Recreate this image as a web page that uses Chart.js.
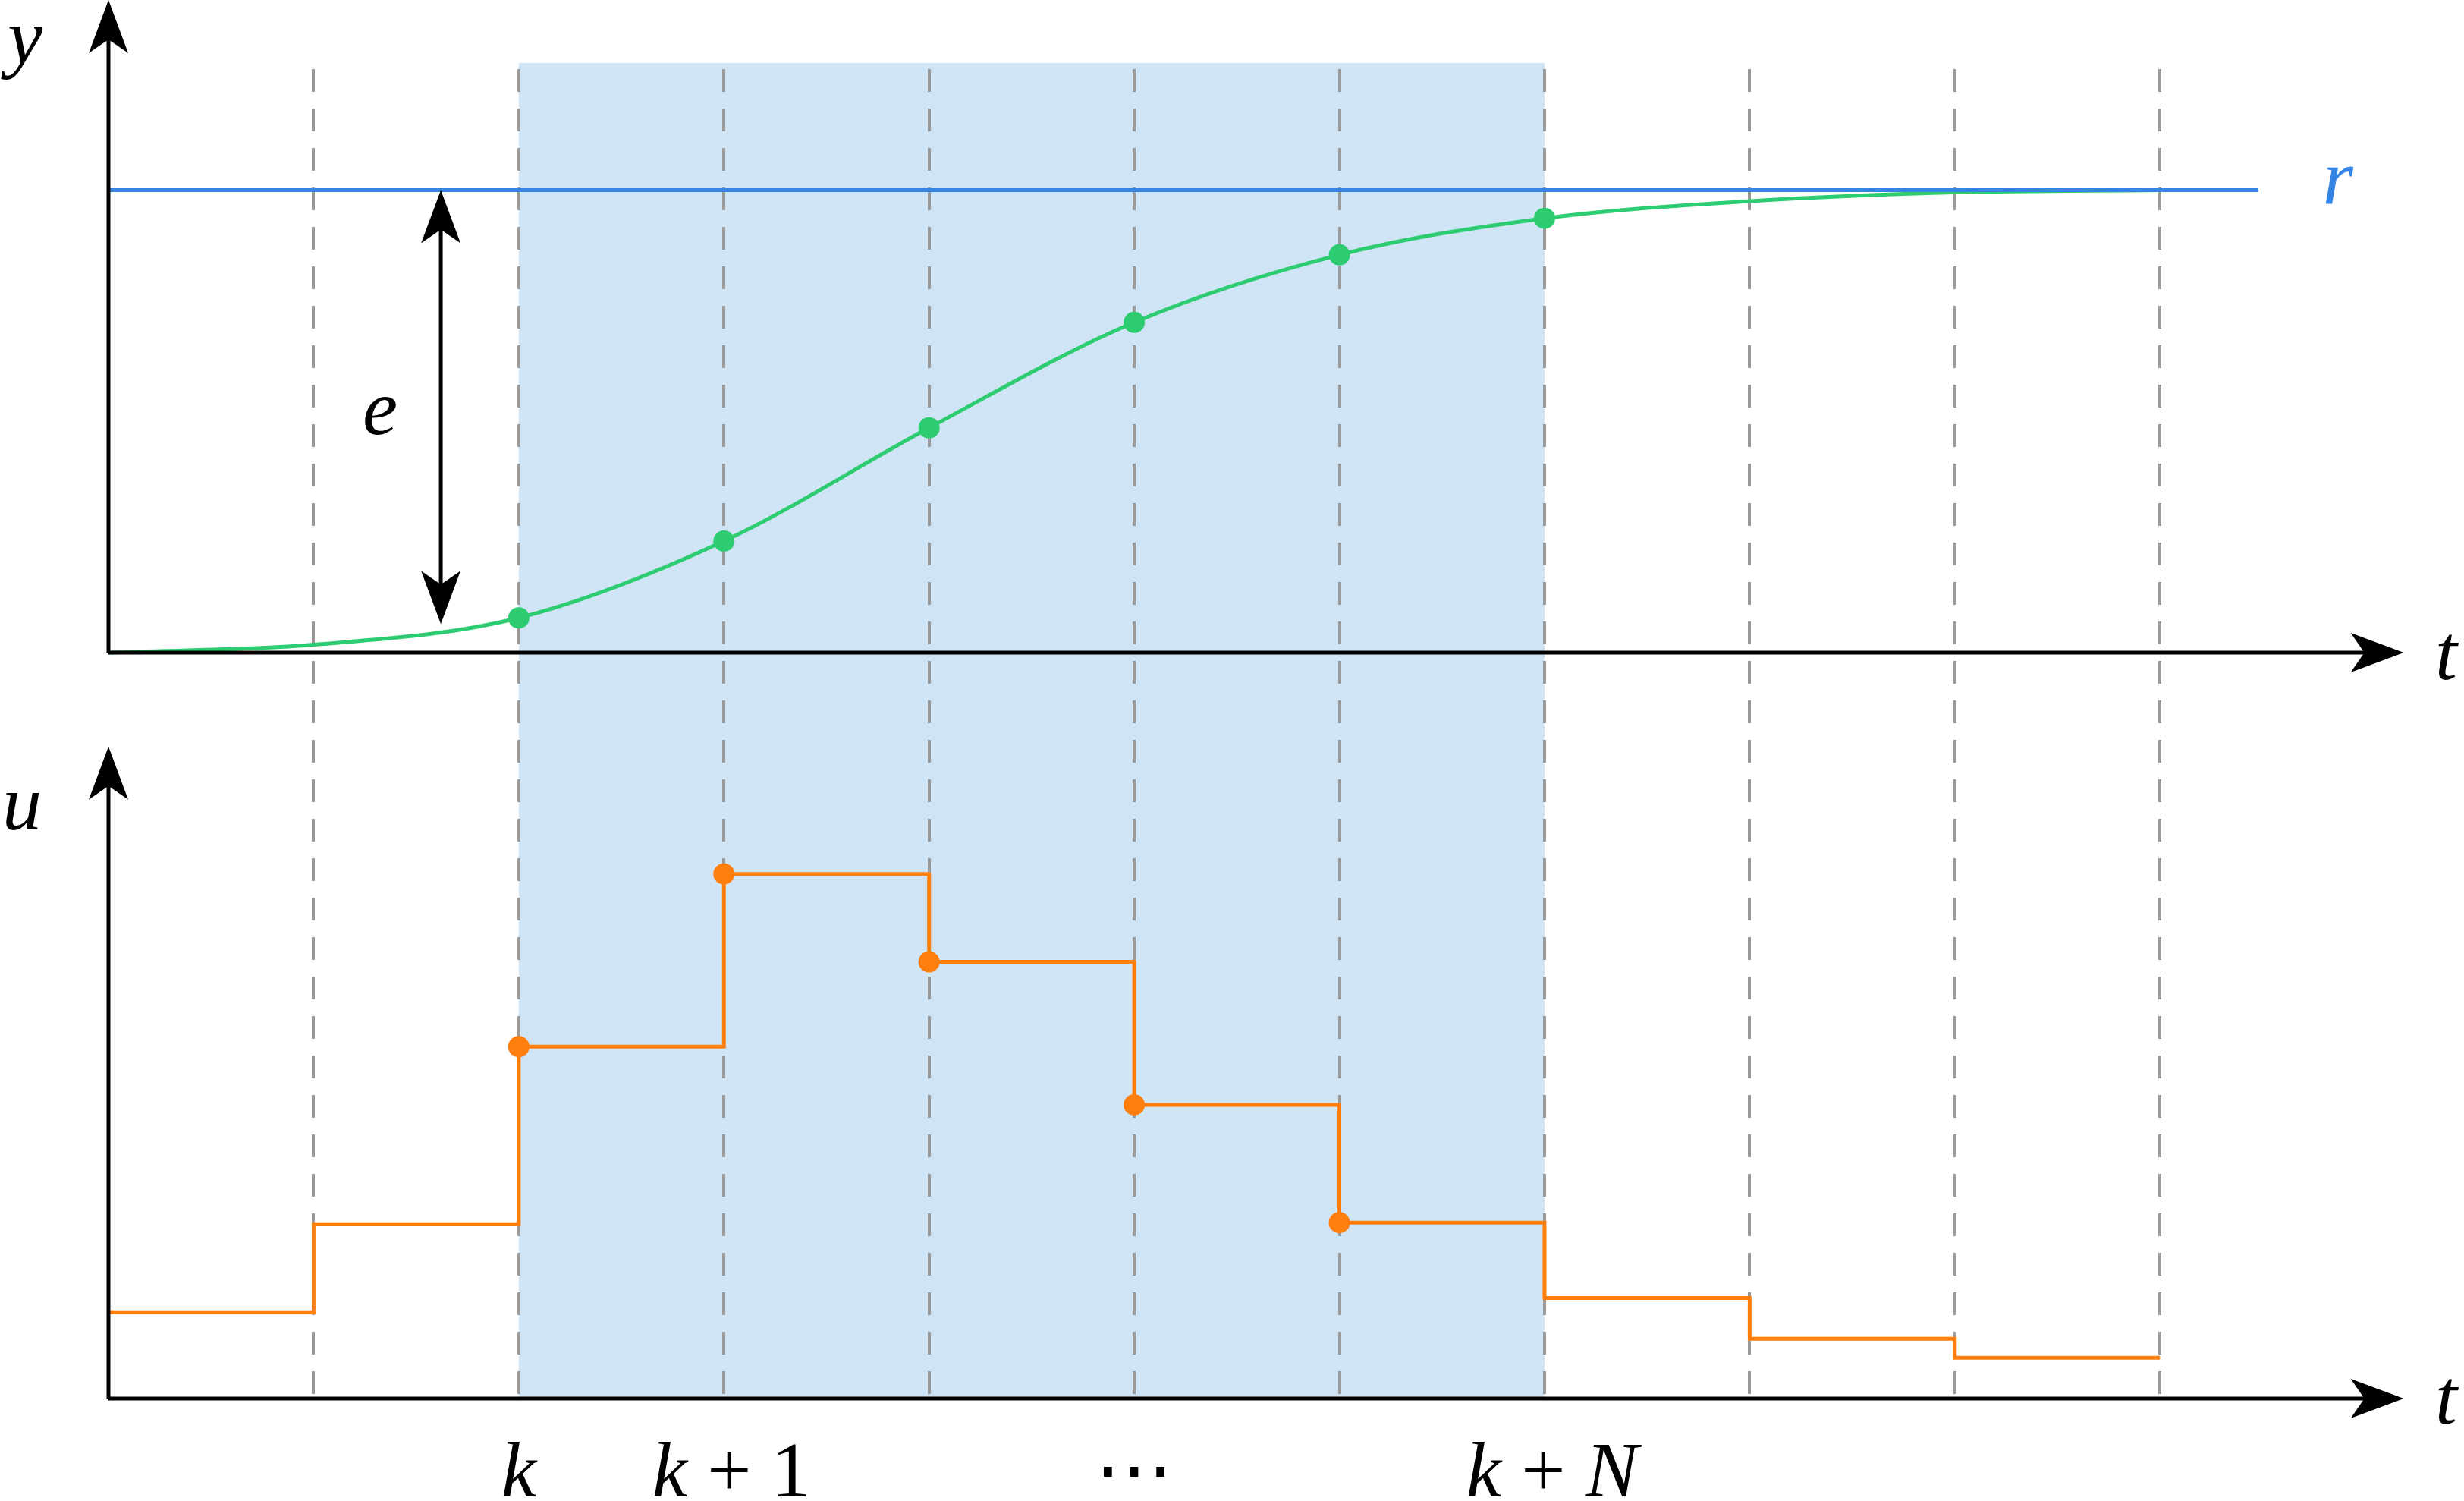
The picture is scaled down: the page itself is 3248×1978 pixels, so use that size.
<!DOCTYPE html>
<html><head><meta charset="utf-8">
<script src="https://cdn.jsdelivr.net/npm/chart.js@4/dist/chart.umd.min.js"></script>
<style>html,body{margin:0;padding:0;background:#fff}#c{display:block}</style>
</head><body>
<canvas id="c" width="3248" height="1978" style="width:3248px;height:1978px"></canvas>
<script>
const steps = [0,1,2,3,4,5,6,7,8,9,10];
const outputY = [0,0.017,0.075,0.241,0.486,0.714,0.86,0.939,0.976,0.995,1.0];
const inputU = [0.55,1.11,2.24,3.34,2.78,1.87,1.12,0.64,0.38,0.26,0.26];
const reference = 1.0;
const refEnd = 10.48;
const horizonStart = 2, horizonEnd = 7;
const tickLabels = [{t:2,parts:[['k',1]]},{t:3,parts:[['k',1],[' + 1',0]]},{t:5,parts:[['⋯',0]]},{t:7,parts:[['k',1],[' + ',0],['N',1]]}];

const S = 2.071;
const yPts = steps.map((t,i)=>({x:t,y:outputY[i]}));
const uPts = steps.map((t,i)=>({x:t,y:inputU[i]}));
const green='#2ecc71', orange='#ff7f0e', blue='#3584e4';

const deco = {
  id:'deco',
  beforeDatasetsDraw(ch){
    const c=ch.ctx, x=ch.scales.x, y=ch.scales.y, u=ch.scales.u;
    c.save();
    c.fillStyle='#cfe4f5';
    const x0=x.getPixelForValue(horizonStart), x1=x.getPixelForValue(horizonEnd);
    c.fillRect(x0,40*S,x1-x0,u.getPixelForValue(0)-40*S);
    c.strokeStyle='#999'; c.lineWidth=4; c.setLineDash([30,22]);
    for(let t=1;t<=10;t++){const px=Math.round(x.getPixelForValue(t));
      c.beginPath();c.moveTo(px,44*S);c.lineTo(px,u.getPixelForValue(0));c.stroke();}
    c.restore();
  },
  afterDatasetsDraw(ch){
    const c=ch.ctx, x=ch.scales.x, y=ch.scales.y, u=ch.scales.u;
    c.save();
    c.strokeStyle='#000'; c.fillStyle='#000'; c.lineWidth=5;
    const ax=x.getPixelForValue(0);
    function arrowHead(px,py,dir){ // dir: 'up','right'
      c.save();c.translate(px,py);c.rotate(dir==='up'?-Math.PI/2:(dir==='down'?Math.PI/2:0));
      c.beginPath();c.moveTo(0,0);c.lineTo(-70,-26);c.lineTo(-52,0);c.lineTo(-70,26);c.closePath();c.fill();c.restore();
    }
    function line(a,b,cc,d){c.beginPath();c.moveTo(a,b);c.lineTo(cc,d);c.stroke();}
    const y0=y.getPixelForValue(0), u0=u.getPixelForValue(0), xe=1530*S;
    line(ax,y0,xe-40,y0); arrowHead(xe,y0,'right');
    line(ax,y0,ax,40); arrowHead(ax,0,'up');
    line(ax,u0,xe-40,u0); arrowHead(xe,u0,'right');
    line(ax,u0,ax,478*S+40); arrowHead(ax,475*S,'up');
    // e arrow
    const ex=x.getPixelForValue(1.62), yr=y.getPixelForValue(reference), yb=397*S;
    line(ex,yr+40,ex,yb-40); arrowHead(ex,yr,'up'); arrowHead(ex,yb,'down');
    // texts
    const fs=104;
    function txt(parts,cx,cy,color,align){
      let w=0; parts.forEach(p=>{c.font=(p[1]?'italic ':'')+fs+'px "Liberation Serif"';w+=c.measureText(p[0]).width;});
      let sx=align==='left'?cx:cx-w/2; c.fillStyle=color||'#000'; c.textBaseline='alphabetic';
      parts.forEach(p=>{c.font=(p[1]?'italic ':'')+fs+'px "Liberation Serif"';c.fillText(p[0],sx,cy);sx+=c.measureText(p[0]).width;});
    }
    txt([['y',1]],16*S,40*S,'#000','center');
    txt([['t',1]],1557*S,432*S,'#000','center');
    txt([['u',1]],14*S,528*S,'#000','center');
    txt([['t',1]],1557*S,906*S,'#000','center');
    txt([['r',1]],1488*S,130*S,blue,'center');
    txt([['e',1]],242*S,276*S,'#000','center');
    tickLabels.forEach(l=>txt(l.parts,x.getPixelForValue(l.t)+(l.parts.length>1?10:0),952*S,'#000','center'));
    c.restore();
  }
};

new Chart(document.getElementById('c'),{
  type:'line',
  data:{datasets:[
    {label:'r',data:[{x:0,y:reference},{x:refEnd,y:reference}],yAxisID:'y',borderColor:blue,borderWidth:5,pointRadius:0,fill:false},
    {label:'y',data:yPts,yAxisID:'y',borderColor:green,borderWidth:5,cubicInterpolationMode:'monotone',
      pointRadius:steps.map(t=>t>=horizonStart&&t<=horizonEnd?14:0),pointBackgroundColor:green,pointBorderWidth:0},
    {label:'u',data:uPts,yAxisID:'u',borderColor:orange,borderWidth:5,stepped:'before',
      pointRadius:steps.map(t=>t>=horizonStart&&t<horizonEnd?14:0),pointBackgroundColor:orange,pointBorderWidth:0}
  ]},
  options:{
    responsive:false,animation:false,devicePixelRatio:1,
    layout:{padding:{left:143,right:3248-3169,top:0,bottom:1978-1843}},
    plugins:{legend:{display:false},tooltip:{enabled:false}},
    scales:{
      x:{type:'linear',min:0,max:11.19,display:false},
      y:{type:'linear',min:-1.613,max:1.411,display:false},
      u:{type:'linear',min:0,max:8.904,display:false,position:'left'}
    }
  },
  plugins:[deco]
});
</script>
</body></html>
